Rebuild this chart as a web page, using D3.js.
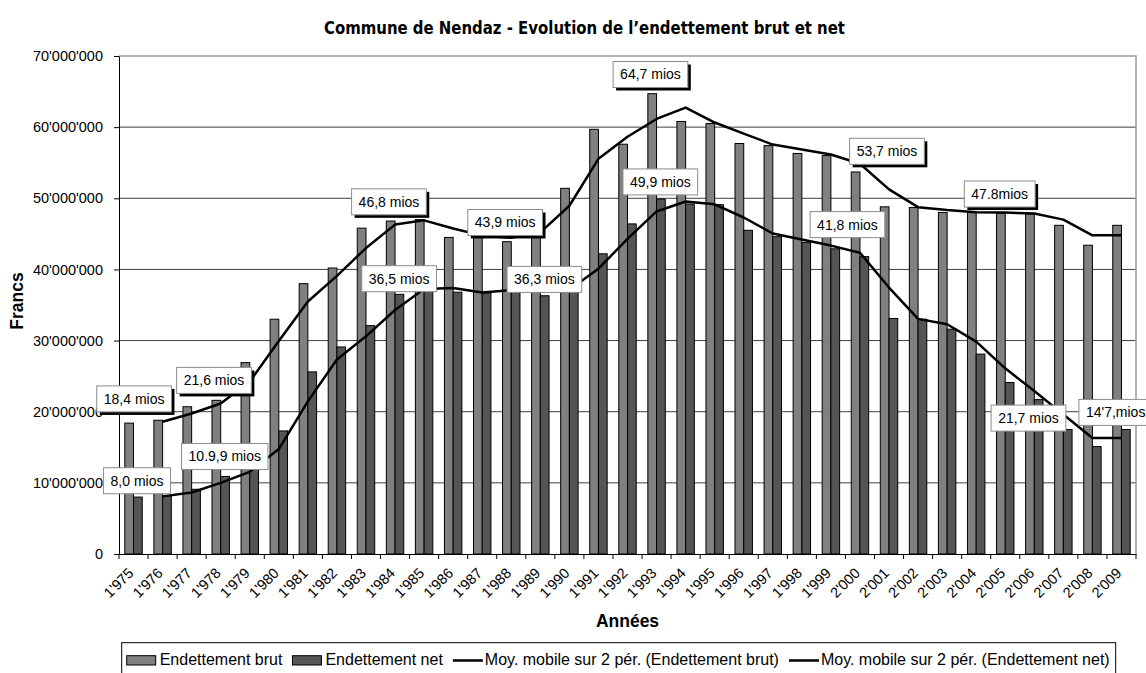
<!DOCTYPE html>
<html>
<head>
<meta charset="utf-8">
<script src="https://cdn.jsdelivr.net/npm/d3@7/dist/d3.min.js"></script>
<style>
body { margin: 0; background: #fff; }
text { font-family: "Liberation Sans", Arial, sans-serif; fill: #000; }
</style>
</head>
<body>
<script>
// data, in millions of francs
var years = [1975, 1976, 1977, 1978, 1979, 1980, 1981, 1982, 1983, 1984,
	1985, 1986, 1987, 1988, 1989, 1990, 1991, 1992, 1993, 1994,
	1995, 1996, 1997, 1998, 1999, 2000, 2001, 2002, 2003, 2004,
	2005, 2006, 2007, 2008, 2009];
var brut = [18.4, 18.8, 20.7, 21.6, 26.9, 33.0, 38.0, 40.2, 45.8, 46.8,
	47.0, 44.5, 45.0, 43.9, 46.5, 51.4, 59.7, 57.6, 64.7, 60.8,
	60.5, 57.7, 57.4, 56.3, 56.0, 53.7, 48.8, 48.7, 48.0, 48.1,
	47.9, 47.8, 46.2, 43.4, 46.2];
var net = [8.0, 8.2, 9.1, 10.9, 12.2, 17.3, 25.6, 29.1, 32.1, 36.5,
	38.0, 36.8, 36.7, 37.5, 36.3, 38.0, 42.2, 46.4, 49.9, 49.2,
	49.1, 45.5, 44.6, 43.8, 42.9, 41.8, 33.1, 33.0, 31.6, 28.1,
	24.1, 21.7, 17.5, 15.1, 17.5];
var yTicks = [0, 10, 20, 30, 40, 50, 60, 70];

// callout boxes: text, year position, value position (millions)
var callouts = [
	{ text: "18,4 mios",   year: 1975.02, value: 21.8,  shadow: true },
	{ text: "21,6 mios",   year: 1977.77, value: 24.4,  shadow: true },
	{ text: "8,0 mios",    year: 1975.12, value: 10.3,  shadow: false },
	{ text: "10.9,9 mios", year: 1978.14, value: 13.7,  shadow: false },
	{ text: "46,8 mios",   year: 1983.79, value: 49.5,  shadow: true },
	{ text: "36,5 mios",   year: 1984.14, value: 38.7,  shadow: false },
	{ text: "43,9 mios",   year: 1987.79, value: 46.6,  shadow: true },
	{ text: "36,3 mios",   year: 1989.14, value: 38.6,  shadow: false },
	{ text: "64,7 mios",   year: 1992.79, value: 67.4,  shadow: true },
	{ text: "49,9 mios",   year: 1993.13, value: 52.3,  shadow: false },
	{ text: "53,7 mios",   year: 2000.93, value: 56.6,  shadow: true },
	{ text: "41,8 mios",   year: 1999.57, value: 46.3,  shadow: false },
	{ text: "47.8mios",    year: 2004.81, value: 50.6,  shadow: true },
	{ text: "21,7 mios",   year: 2005.80, value: 19.1,  shadow: false },
	{ text: "14'7,mios",   year: 2008.80, value: 19.9,  shadow: false }
];

var width = 1146, height = 673;
var plotLeft = 119, plotRight = 1136, plotTop = 56, plotBottom = 554;
var colBrut = "#808080", colNet = "#555555";

var fmt = d3.formatLocale({ decimal: ",", thousands: "'", grouping: [3], currency: ["", ""] }).format(",d");

var svg = d3.select("body")
	.append("svg")
		.attr("width", width)
		.attr("height", height);

var x = d3.scaleBand()
		.domain(years)
		.range([plotLeft, plotRight])
		.paddingInner(0.4)
		.paddingOuter(0.2);
var xs = d3.scaleBand()
		.domain(["brut", "net"])
		.range([0, x.bandwidth()]);
var y = d3.scaleLinear()
		.domain([0, 70e6])
		.range([plotBottom, plotTop]);
var xc = function(yr) { return x(yr) + x.bandwidth() / 2; };
var xYear = d3.scaleLinear()
		.domain([years[0], years[years.length - 1]])
		.range([xc(years[0]), xc(years[years.length - 1])]);

// gridlines
svg.append("g")
	.selectAll("line")
		.data(yTicks.slice(1, -1))
	.enter()
	.append("line")
		.attr("x1", plotLeft)
		.attr("x2", plotRight)
		.attr("y1", function(d) { return y(d * 1e6); })
		.attr("y2", function(d) { return y(d * 1e6); })
		.attr("stroke", "#404040")
		.attr("stroke-width", 1);

// plot border top / right
svg.append("path")
		.attr("d", "M" + plotLeft + "," + y(70e6) + "H" + plotRight + "V" + y(0))
		.attr("fill", "none")
		.attr("stroke", "#999")
		.attr("stroke-width", 1.5);

// bars
var rows = years.map(function(yr, i) { return { year: yr, brut: brut[i], net: net[i] }; });
var groups = svg.append("g")
	.selectAll("g")
		.data(rows)
	.enter()
	.append("g")
		.attr("transform", function(d) { return "translate(" + x(d.year) + ",0)"; });
groups.selectAll("rect")
		.data(function(d) { return [{ key: "brut", v: d.brut }, { key: "net", v: d.net }]; })
	.enter()
	.append("rect")
		.attr("x", function(d) { return xs(d.key); })
		.attr("width", xs.bandwidth())
		.attr("y", function(d) { return y(d.v * 1e6); })
		.attr("height", function(d) { return y(0) - y(d.v * 1e6); })
		.attr("fill", function(d) { return d.key === "brut" ? colBrut : colNet; })
		.attr("stroke", "#000")
		.attr("stroke-width", 1);

// moving averages over 2 periods
function movingAvg(vals) {
	var out = [];
	for (var i = 1; i < vals.length; i++) {
		out.push({ year: years[i], v: (vals[i - 1] + vals[i]) / 2 });
	}
	return out;
}
var line = d3.line()
		.x(function(d) { return xc(d.year); })
		.y(function(d) { return y(d.v * 1e6); });
[brut, net].forEach(function(s) {
	svg.append("path")
		.datum(movingAvg(s))
		.attr("d", line)
		.attr("fill", "none")
		.attr("stroke", "#000")
		.attr("stroke-width", 2.5)
		.attr("stroke-linejoin", "round");
});

// y axis
var yAxis = svg.append("g")
		.attr("transform", "translate(" + plotLeft + ",0)")
		.call(d3.axisLeft(y)
			.tickValues(yTicks.map(function(d) { return d * 1e6; }))
			.tickSize(5)
			.tickSizeOuter(0)
			.tickPadding(11)
			.tickFormat(fmt));
yAxis.select(".domain").attr("stroke", "#000");
yAxis.selectAll("text")
		.style("font-family", "'Liberation Sans', Arial, sans-serif")
		.style("font-size", "14.5px");

// x axis
var xAxis = svg.append("g")
		.attr("transform", "translate(0," + plotBottom + ")")
		.call(d3.axisBottom(x).tickSize(0).tickSizeOuter(0).tickFormat(fmt));
xAxis.select(".domain").attr("stroke", "#000");
xAxis.selectAll("text")
		.style("font-family", "'Liberation Sans', Arial, sans-serif")
		.style("font-size", "14.5px")
		.attr("text-anchor", "end")
		.attr("y", 0)
		.attr("dy", 0)
		.attr("transform", "translate(1,20) rotate(-45)");
svg.append("g")
	.selectAll("line")
		.data(d3.range(years.length + 1))
	.enter()
	.append("line")
		.attr("x1", function(i) { return plotLeft + i * x.step(); })
		.attr("x2", function(i) { return plotLeft + i * x.step(); })
		.attr("y1", plotBottom)
		.attr("y2", plotBottom + 5)
		.attr("stroke", "#000");

// callouts
var notes = svg.append("g")
	.selectAll("g")
		.data(callouts)
	.enter()
	.append("g")
		.attr("transform", function(d) { return "translate(" + xYear(d.year) + "," + y(d.value * 1e6) + ")"; });
notes.append("text")
		.attr("text-anchor", "middle")
		.attr("dy", "0.35em")
		.style("font-size", "14px")
		.text(function(d) { return d.text; })
		.each(function(d) { d.w = this.getComputedTextLength() + 14; });
notes.filter(function(d) { return d.shadow; })
	.insert("rect", "text")
		.attr("x", function(d) { return -d.w / 2 + 3; })
		.attr("y", -13 + 3)
		.attr("width", function(d) { return d.w; })
		.attr("height", 26)
		.attr("fill", "#000");
notes.insert("rect", "text")
		.attr("x", function(d) { return -d.w / 2; })
		.attr("y", -13)
		.attr("width", function(d) { return d.w; })
		.attr("height", 26)
		.attr("fill", "#fff")
		.attr("stroke", "#8c8c8c")
		.attr("stroke-width", 1);

// titles
svg.append("text")
		.attr("x", 324)
		.attr("y", 33.5)
		.attr("textLength", 521)
		.attr("lengthAdjust", "spacingAndGlyphs")
		.style("font-family", "'Liberation Sans Narrow', 'DejaVu Sans Condensed', 'Arial Narrow', sans-serif")
		.style("font-weight", "bold")
		.style("font-size", "18.5px")
		.text("Commune de Nendaz - Evolution de l\u2019endettement brut et net");
svg.append("text")
		.attr("x", (plotLeft + plotRight) / 2)
		.attr("y", 627)
		.attr("text-anchor", "middle")
		.style("font-weight", "bold")
		.style("font-size", "17.5px")
		.text("Ann\u00e9es");
svg.append("text")
		.attr("transform", "translate(23," + 301 + ") rotate(-90)")
		.attr("text-anchor", "middle")
		.style("font-weight", "bold")
		.style("font-size", "17.5px")
		.text("Francs");

// legend
var legendItems = [
	{ label: "Endettement brut", kind: "bar", color: colBrut },
	{ label: "Endettement net", kind: "bar", color: colNet },
	{ label: "Moy. mobile sur 2 p\u00e9r. (Endettement brut)", kind: "line", color: "#000" },
	{ label: "Moy. mobile sur 2 p\u00e9r. (Endettement net)", kind: "line", color: "#000" }
];
var legend = svg.append("g");
var lx = 126.7;
legendItems.forEach(function(it) {
	if (it.kind === "bar") {
		legend.append("rect")
			.attr("x", lx).attr("y", 655.7)
			.attr("width", 29).attr("height", 9.3)
			.attr("fill", it.color).attr("stroke", "#000");
		lx += 33;
	} else {
		legend.append("line")
			.attr("x1", lx).attr("x2", lx + 30)
			.attr("y1", 660.5).attr("y2", 660.5)
			.attr("stroke", it.color).attr("stroke-width", 2.5);
		lx += 32;
	}
	var t = legend.append("text")
			.attr("x", lx).attr("y", 665)
			.style("font-size", "16px")
			.text(it.label);
	lx += t.node().getComputedTextLength() + 10;
});
legend.insert("rect", ":first-child")
		.attr("x", 121.7)
		.attr("y", 642.7)
		.attr("width", lx - 121.7 - 4)
		.attr("height", 40)
		.attr("fill", "#fff")
		.attr("stroke", "#000");
</script>
</body>
</html>
